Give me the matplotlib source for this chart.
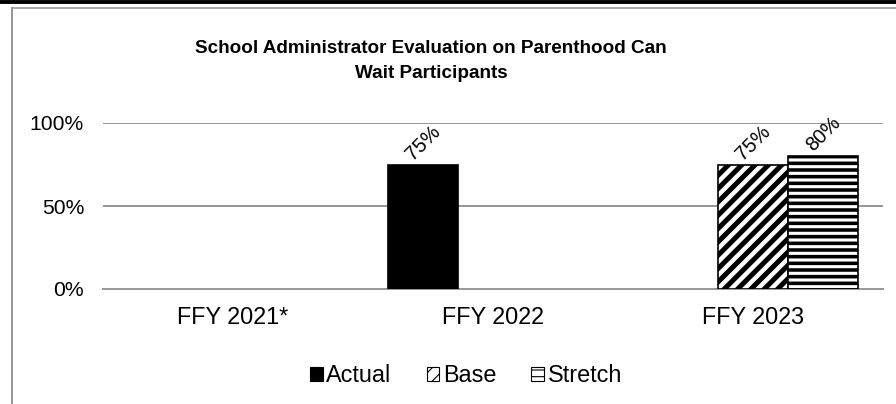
import numpy as np
import matplotlib
matplotlib.use("Agg")
import matplotlib.pyplot as plt
from matplotlib.lines import Line2D
from matplotlib.patches import Patch

categories = ["FFY 2021*", "FFY 2022", "FFY 2023"]
series = ["Actual", "Base", "Stretch"]
actual = [np.nan, 0.75, np.nan]
base = [np.nan, np.nan, 0.75]
stretch = [np.nan, np.nan, 0.80]
yticks = [0, 0.5, 1.0]
ytick_labels = ["0%", "50%", "100%"]
title = "School Administrator Evaluation on Parenthood Can\nWait Participants"

plt.rcParams['font.family'] = ['Liberation Sans', 'DejaVu Sans']
plt.rcParams['hatch.color'] = 'black'

DPI = 80
fig = plt.figure(figsize=(896 / DPI, 404 / DPI), dpi=DPI)
ax = fig.add_axes([103 / 896, 1 - 289 / 404, (883 - 103) / 896, (289 - 123) / 404])

x = np.arange(len(categories))
w = 0.269
styles = [dict(color='black', hatch=None, hlw=1.0),
          dict(color='white', hatch='//', hlw=4.5),
          dict(color='white', hatch='--', hlw=3.2)]
for i, (vals, st) in enumerate(zip([actual, base, stretch], styles)):
    pos = x + (i - 1) * w
    with plt.rc_context({'hatch.linewidth': st['hlw']}):
        ax.bar(pos, vals, width=w, facecolor=st['color'], edgecolor='black',
               hatch=st['hatch'], linewidth=1.5, zorder=3)
    for xp, v in zip(pos, vals):
        if not np.isnan(v):
            ax.annotate(f"{v:.0%}", (xp, v), xytext=(0, 1), textcoords='offset points',
                        ha='center', va='bottom', rotation=45, fontsize=18)

ax.set_xlim(-0.5, 2.5)
ax.set_ylim(0, 1.0)
ax.set_yticks(yticks)
ax.set_yticklabels(ytick_labels)
ax.set_xticks(x)
ax.set_xticklabels(categories)
ax.tick_params(axis='y', length=0, pad=17, labelsize=19)
ax.tick_params(axis='x', length=0, pad=15, labelsize=21)
ax.grid(axis='y', color='#999999', linewidth=1.8, zorder=0)
for s in ['top', 'right', 'left']:
    ax.spines[s].set_visible(False)
ax.spines['bottom'].set_color('#999999')
ax.spines['bottom'].set_linewidth(1.8)

fig.text(431 / 896, 1 - 61 / 404, title, ha='center', va='center', fontsize=17,
         fontweight='bold', linespacing=1.6)

handles = []
for st in styles:
    with plt.rc_context({'hatch.linewidth': st['hlw'] * 0.6}):
        handles.append(Patch(facecolor=st['color'], edgecolor='black', hatch=st['hatch']))
fig.legend(handles, series, loc='center', bbox_to_anchor=(466 / 896, 1 - 376 / 404),
           ncol=3, frameon=False, fontsize=21, handlelength=0.55, handleheight=0.55,
           handletextpad=0.15, columnspacing=1.5)

# outer chart border
fig.add_artist(Line2D([0, 1], [1 - 1.5 / 404, 1 - 1.5 / 404], color='black', linewidth=3.5))
fig.add_artist(Line2D([12 / 896, 1], [1 - 8 / 404, 1 - 8 / 404], color='#999999', linewidth=1.5))
fig.add_artist(Line2D([12 / 896, 12 / 896], [0, 1 - 8 / 404], color='#999999', linewidth=1.8))

fig.savefig("out.png", dpi=DPI)
